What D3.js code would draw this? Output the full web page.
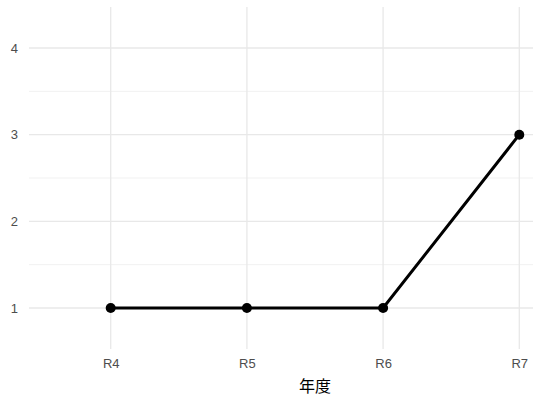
<!DOCTYPE html>
<html><head><meta charset="utf-8">
<script src="https://cdn.jsdelivr.net/npm/d3@7"></script>
<style>body{margin:0;background:#fff;overflow:hidden}</style>
</head><body>
<svg id="c" width="533" height="403"></svg>
<script>
const categories = ["R4","R5","R6","R7"];
const values = [1,1,1,3];
const yTicks = [1,2,3,4];
const yMinor = [1.5,2.5,3.5];
const xTitle = "年度";

const svg = d3.select("#c");
const pL = 29, pR = 601, pT = 7, pB = 349;
const step = (pR-pL)/(categories.length - 1 + 1.2);
const x = d3.scalePoint().domain(categories).range([pL+0.6*step, pR-0.6*step]);
const y = d3.scaleLinear().domain([0.527, 4.473]).range([pB, pT]);

const g = svg.append("g");
g.selectAll(".ym").data(yMinor).join("line")
  .attr("x1", pL).attr("x2", pR).attr("y1", d=>y(d)).attr("y2", d=>y(d))
  .attr("stroke", "#ebebeb").attr("stroke-width", 0.7);
g.selectAll(".yM").data(yTicks).join("line")
  .attr("x1", pL).attr("x2", pR).attr("y1", d=>y(d)).attr("y2", d=>y(d))
  .attr("stroke", "#e8e8e8").attr("stroke-width", 1.3);
g.selectAll(".xM").data(categories).join("line")
  .attr("x1", d=>x(d)).attr("x2", d=>x(d)).attr("y1", pT).attr("y2", pB)
  .attr("stroke", "#e8e8e8").attr("stroke-width", 1.3);

const yAxis = svg.append("g").attr("transform", `translate(${pL},0)`)
  .call(d3.axisLeft(y).tickValues(yTicks).tickFormat(d3.format("d")).tickSize(0).tickPadding(11));
const xAxis = svg.append("g").attr("transform", `translate(0,${pB})`)
  .call(d3.axisBottom(x).tickSize(0).tickPadding(10));
[yAxis, xAxis].forEach(a => {
  a.select(".domain").remove();
  a.selectAll("text").attr("fill", "#4d4d4d").style("font-family", "Liberation Sans, Arial, sans-serif").style("font-size", "13px");
});

const data = categories.map((c,i)=>({c, v: values[i]}));
svg.append("path").datum(data)
  .attr("d", d3.line().x(d=>x(d.c)).y(d=>y(d.v)))
  .attr("fill", "none").attr("stroke", "#000").attr("stroke-width", 3);
svg.selectAll(".pt").data(data).join("circle")
  .attr("cx", d=>x(d.c)).attr("cy", d=>y(d.v)).attr("r", 5).attr("fill", "#000");

svg.append("text").attr("x", (pL+pR)/2).attr("y", 392)
  .attr("text-anchor", "middle").attr("fill", "#000")
  .style("font-family", "Noto Sans CJK JP, sans-serif").style("font-size", "16px")
  .text(xTitle);
</script>
</body></html>
